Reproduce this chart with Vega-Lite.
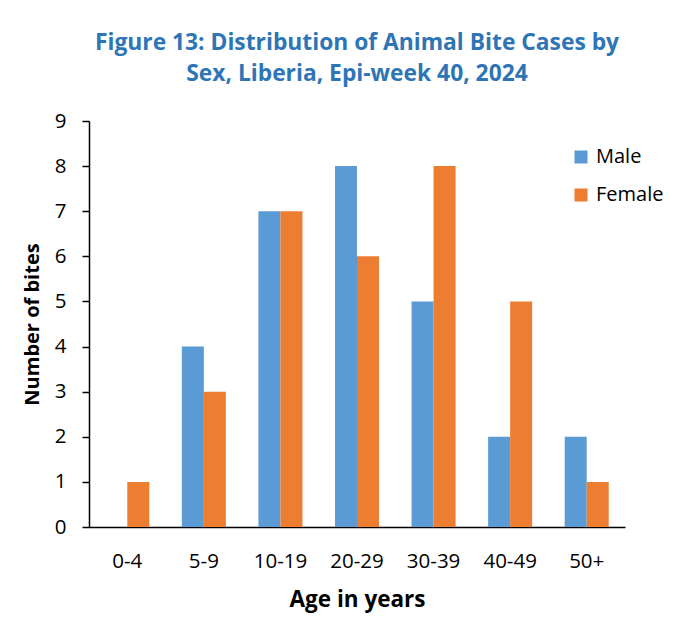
{
  "$schema": "https://vega.github.io/schema/vega-lite/v6.json",
  "width": 536,
  "height": 406,
  "autosize": {"type": "none"},
  "padding": {"left": 89, "top": 121, "right": 51, "bottom": 93},
  "background": "white",
  "title": {
    "text": ["Figure 13: Distribution of Animal Bite Cases by", "Sex, Liberia, Epi-week 40, 2024"],
    "anchor": "middle",
    "frame": "group",
    "font": "Open Sans",
    "fontSize": 22.8,
    "fontWeight": "bold",
    "color": "#2E75B6",
    "lineHeight": 31,
    "offset": 25
  },
  "data": {
    "values": [
      {"age": "0-4", "sex": "Male", "bites": 0},
      {"age": "0-4", "sex": "Female", "bites": 1},
      {"age": "5-9", "sex": "Male", "bites": 4},
      {"age": "5-9", "sex": "Female", "bites": 3},
      {"age": "10-19", "sex": "Male", "bites": 7},
      {"age": "10-19", "sex": "Female", "bites": 7},
      {"age": "20-29", "sex": "Male", "bites": 8},
      {"age": "20-29", "sex": "Female", "bites": 6},
      {"age": "30-39", "sex": "Male", "bites": 5},
      {"age": "30-39", "sex": "Female", "bites": 8},
      {"age": "40-49", "sex": "Male", "bites": 2},
      {"age": "40-49", "sex": "Female", "bites": 5},
      {"age": "50+", "sex": "Male", "bites": 2},
      {"age": "50+", "sex": "Female", "bites": 1}
    ]
  },
  "mark": {"type": "bar"},
  "encoding": {
    "x": {
      "field": "age",
      "type": "nominal",
      "sort": ["0-4", "5-9", "10-19", "20-29", "30-39", "40-49", "50+"],
      "scale": {"paddingInner": 0.425, "paddingOuter": 0.2125},
      "axis": {
        "title": "Age in years",
        "labelAngle": 0,
        "ticks": false,
        "labelPadding": 24,
        "titlePadding": 17,
        "titleFontSize": 22.5
      }
    },
    "xOffset": {
      "field": "sex",
      "type": "nominal",
      "sort": ["Male", "Female"],
      "scale": {"paddingInner": 0, "paddingOuter": 0}
    },
    "y": {
      "field": "bites",
      "type": "quantitative",
      "scale": {"domain": [0, 9], "nice": false},
      "axis": {
        "title": "Number of bites",
        "values": [0, 1, 2, 3, 4, 5, 6, 7, 8, 9],
        "grid": false,
        "tickSize": 7,
        "labelPadding": 16,
        "titlePadding": 12,
        "titleFontSize": 20
      }
    },
    "color": {
      "field": "sex",
      "type": "nominal",
      "sort": ["Male", "Female"],
      "scale": {"domain": ["Male", "Female"], "range": ["#5B9BD5", "#ED7D31"]},
      "legend": {
        "title": null,
        "orient": "none",
        "legendX": 482,
        "legendY": 26,
        "symbolType": "square",
        "symbolSize": 169,
        "symbolStrokeWidth": 0,
        "labelFontSize": 20,
        "labelFont": "Open Sans",
        "labelColor": "#000000",
        "labelOffset": 5,
        "rowPadding": 18,
        "padding": 0
      }
    }
  },
  "config": {
    "view": {"stroke": null},
    "axis": {
      "domainColor": "#000000",
      "domainWidth": 1.5,
      "tickColor": "#000000",
      "tickWidth": 1.5,
      "labelFont": "Open Sans",
      "labelFontSize": 20.5,
      "labelColor": "#000000",
      "titleFont": "Open Sans",
      "titleFontWeight": "bold",
      "titleColor": "#000000"
    }
  }
}
